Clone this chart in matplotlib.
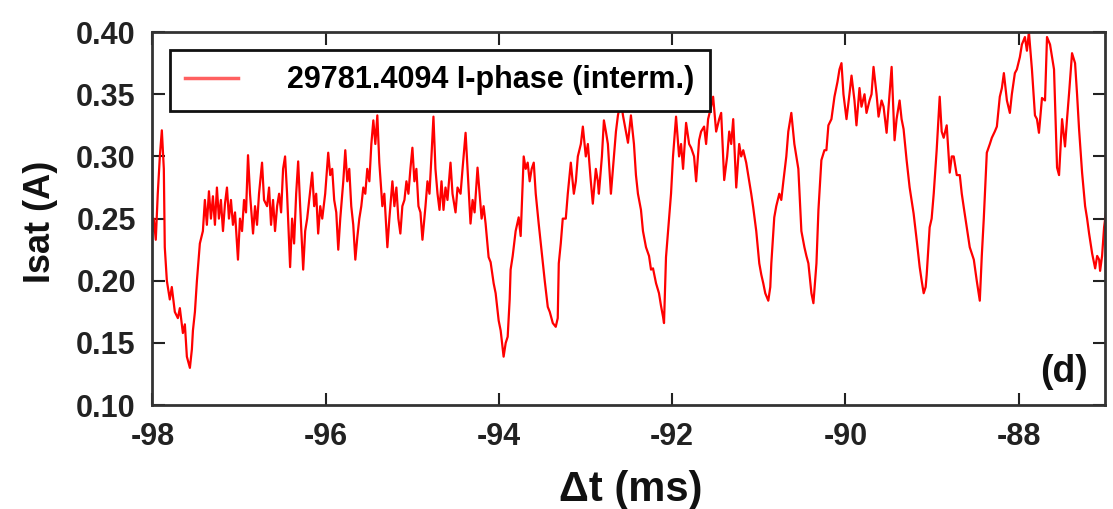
import numpy as np
import matplotlib
matplotlib.use("Agg")
import matplotlib.pyplot as plt
from matplotlib.ticker import FormatStrFormatter

plt.rcParams['font.family'] = ['Liberation Sans', 'DejaVu Sans']
plt.rcParams['font.weight'] = 'bold'
plt.rcParams['axes.unicode_minus'] = False

# time (ms) and Isat (A)
t_ms = [
    -98.000, -97.985, -97.962, -97.939, -97.915, -97.892, -97.869, -97.858, -97.834, -97.800,
    -97.777, -97.742, -97.707, -97.684, -97.649, -97.626, -97.603, -97.568, -97.545, -97.533,
    -97.510, -97.487, -97.453, -97.418, -97.395, -97.372, -97.348, -97.325, -97.302, -97.279,
    -97.256, -97.233, -97.210, -97.186, -97.163, -97.140, -97.117, -97.094, -97.071, -97.047,
    -97.013, -96.990, -96.966, -96.943, -96.920, -96.897, -96.874, -96.839, -96.816, -96.793,
    -96.770, -96.735, -96.712, -96.677, -96.654, -96.631, -96.608, -96.585, -96.561, -96.538,
    -96.515, -96.492, -96.469, -96.446, -96.411, -96.388, -96.365, -96.341, -96.318, -96.295,
    -96.260, -96.237, -96.214, -96.191, -96.156, -96.133, -96.110, -96.087, -96.063, -96.040,
    -96.006, -95.971, -95.948, -95.925, -95.902, -95.878, -95.855, -95.832, -95.797, -95.774,
    -95.751, -95.728, -95.705, -95.682, -95.658, -95.635, -95.612, -95.589, -95.566, -95.543,
    -95.520, -95.496, -95.473, -95.450, -95.427, -95.404, -95.381, -95.346, -95.323, -95.288,
    -95.265, -95.230, -95.207, -95.184, -95.161, -95.138, -95.115, -95.091, -95.068, -95.045,
    -95.022, -94.999, -94.976, -94.953, -94.929, -94.906, -94.883, -94.848, -94.825, -94.802,
    -94.779, -94.756, -94.733, -94.709, -94.686, -94.663, -94.640, -94.617, -94.594, -94.559,
    -94.536, -94.501, -94.478, -94.443, -94.420, -94.385, -94.362, -94.328, -94.304, -94.281,
    -94.247, -94.223, -94.200, -94.177, -94.154, -94.119, -94.096, -94.061, -94.038, -94.003,
    -93.980, -93.946, -93.922, -93.899, -93.876, -93.865, -93.841, -93.807, -93.772, -93.749,
    -93.714, -93.691, -93.668, -93.645, -93.622, -93.598, -93.575, -93.541, -93.517, -93.494,
    -93.471, -93.436, -93.413, -93.378, -93.344, -93.321, -93.309, -93.286, -93.263, -93.228,
    -93.205, -93.170, -93.135, -93.112, -93.089, -93.054, -93.031, -92.997, -92.973, -92.939,
    -92.916, -92.881, -92.858, -92.846, -92.811, -92.788, -92.765, -92.742, -92.707, -92.672,
    -92.649, -92.626, -92.591, -92.568, -92.534, -92.510, -92.476, -92.441, -92.418, -92.395,
    -92.360, -92.337, -92.302, -92.267, -92.244, -92.221, -92.186, -92.152, -92.129, -92.105,
    -92.094, -92.071, -92.036, -92.013, -91.990, -91.955, -91.920, -91.897, -91.874, -91.839,
    -91.804, -91.781, -91.747, -91.723, -91.689, -91.666, -91.631, -91.608, -91.585, -91.550,
    -91.527, -91.492, -91.457, -91.434, -91.399, -91.365, -91.341, -91.318, -91.295, -91.260,
    -91.226, -91.203, -91.179, -91.145, -91.110, -91.087, -91.064, -91.029, -90.994, -90.971,
    -90.948, -90.925, -90.890, -90.867, -90.855, -90.821, -90.798, -90.763, -90.740, -90.716,
    -90.682, -90.659, -90.624, -90.589, -90.566, -90.543, -90.508, -90.473, -90.450, -90.427,
    -90.392, -90.369, -90.334, -90.311, -90.277, -90.242, -90.219, -90.196, -90.161, -90.126,
    -90.091, -90.068, -90.045, -90.022, -89.987, -89.953, -89.929, -89.895, -89.872, -89.837,
    -89.814, -89.779, -89.756, -89.721, -89.698, -89.675, -89.640, -89.617, -89.582, -89.559,
    -89.524, -89.501, -89.466, -89.432, -89.409, -89.374, -89.351, -89.328, -89.293, -89.258,
    -89.212, -89.177, -89.142, -89.119, -89.096, -89.073, -89.061, -89.027, -89.004, -88.980,
    -88.946, -88.911, -88.888, -88.865, -88.830, -88.795, -88.772, -88.749, -88.714, -88.679,
    -88.656, -88.633, -88.598, -88.564, -88.517, -88.483, -88.448, -88.425, -88.402, -88.367,
    -88.332, -88.309, -88.275, -88.251, -88.217, -88.193, -88.170, -88.135, -88.101, -88.078,
    -88.043, -88.020, -87.985, -87.962, -87.927, -87.904, -87.881, -87.846, -87.811, -87.788,
    -87.765, -87.730, -87.695, -87.672, -87.637, -87.614, -87.591, -87.556, -87.533, -87.498,
    -87.464, -87.441, -87.417, -87.383, -87.348, -87.325, -87.302, -87.267, -87.232, -87.209,
    -87.186, -87.151, -87.116, -87.093, -87.070, -87.059, -87.036, -87.013, -86.978,
]
isat = [
    0.240, 0.250, 0.233, 0.270, 0.300, 0.321, 0.290, 0.227, 0.200, 0.185,
    0.195, 0.175, 0.170, 0.178, 0.158, 0.165, 0.139, 0.130, 0.145, 0.160,
    0.175, 0.200, 0.230, 0.240, 0.265, 0.245, 0.272, 0.250, 0.268, 0.245,
    0.275, 0.250, 0.265, 0.240, 0.262, 0.275, 0.250, 0.265, 0.245, 0.255,
    0.217, 0.250, 0.240, 0.265, 0.255, 0.301, 0.270, 0.238, 0.260, 0.245,
    0.270, 0.295, 0.265, 0.260, 0.275, 0.245, 0.265, 0.240, 0.260, 0.270,
    0.255, 0.290, 0.300, 0.270, 0.211, 0.250, 0.230, 0.270, 0.296, 0.260,
    0.209, 0.240, 0.250, 0.265, 0.287, 0.260, 0.270, 0.238, 0.260, 0.250,
    0.270, 0.303, 0.285, 0.290, 0.265, 0.255, 0.225, 0.250, 0.280, 0.305,
    0.280, 0.290, 0.260, 0.245, 0.217, 0.235, 0.250, 0.260, 0.275, 0.270,
    0.290, 0.280, 0.310, 0.329, 0.310, 0.333, 0.295, 0.260, 0.270, 0.227,
    0.250, 0.280, 0.260, 0.275, 0.250, 0.238, 0.260, 0.265, 0.280, 0.270,
    0.290, 0.307, 0.280, 0.290, 0.260, 0.255, 0.233, 0.260, 0.280, 0.270,
    0.300, 0.332, 0.290, 0.270, 0.257, 0.280, 0.257, 0.275, 0.265, 0.295,
    0.270, 0.255, 0.275, 0.270, 0.290, 0.319, 0.290, 0.246, 0.265, 0.255,
    0.291, 0.270, 0.250, 0.260, 0.246, 0.219, 0.215, 0.198, 0.190, 0.168,
    0.160, 0.139, 0.150, 0.155, 0.185, 0.209, 0.220, 0.240, 0.251, 0.236,
    0.300, 0.290, 0.295, 0.280, 0.290, 0.295, 0.270, 0.246, 0.230, 0.214,
    0.200, 0.179, 0.175, 0.166, 0.163, 0.170, 0.214, 0.230, 0.250, 0.250,
    0.270, 0.295, 0.270, 0.280, 0.300, 0.310, 0.324, 0.300, 0.310, 0.280,
    0.262, 0.290, 0.280, 0.270, 0.300, 0.329, 0.320, 0.310, 0.270, 0.300,
    0.320, 0.333, 0.345, 0.333, 0.320, 0.311, 0.333, 0.310, 0.285, 0.270,
    0.257, 0.240, 0.227, 0.220, 0.209, 0.210, 0.198, 0.190, 0.180, 0.171,
    0.166, 0.219, 0.250, 0.270, 0.300, 0.332, 0.300, 0.310, 0.290, 0.327,
    0.310, 0.307, 0.300, 0.280, 0.313, 0.320, 0.324, 0.310, 0.330, 0.340,
    0.348, 0.320, 0.330, 0.335, 0.281, 0.300, 0.320, 0.310, 0.330, 0.275,
    0.310, 0.300, 0.305, 0.295, 0.280, 0.270, 0.259, 0.240, 0.214, 0.205,
    0.198, 0.190, 0.184, 0.195, 0.214, 0.251, 0.260, 0.270, 0.265, 0.280,
    0.300, 0.320, 0.335, 0.310, 0.300, 0.290, 0.240, 0.227, 0.220, 0.214,
    0.190, 0.182, 0.214, 0.257, 0.297, 0.305, 0.305, 0.325, 0.330, 0.348,
    0.360, 0.370, 0.375, 0.350, 0.330, 0.350, 0.365, 0.345, 0.325, 0.355,
    0.340, 0.350, 0.335, 0.345, 0.350, 0.372, 0.350, 0.332, 0.345, 0.340,
    0.319, 0.340, 0.372, 0.313, 0.330, 0.345, 0.330, 0.322, 0.297, 0.275,
    0.254, 0.233, 0.211, 0.200, 0.190, 0.195, 0.205, 0.243, 0.250, 0.270,
    0.305, 0.348, 0.320, 0.315, 0.325, 0.287, 0.300, 0.300, 0.285, 0.285,
    0.270, 0.259, 0.243, 0.227, 0.217, 0.200, 0.184, 0.220, 0.250, 0.303,
    0.310, 0.315, 0.320, 0.324, 0.348, 0.355, 0.367, 0.345, 0.335, 0.350,
    0.367, 0.370, 0.380, 0.390, 0.396, 0.385, 0.400, 0.370, 0.333, 0.330,
    0.319, 0.347, 0.345, 0.396, 0.390, 0.380, 0.370, 0.291, 0.285, 0.330,
    0.308, 0.330, 0.351, 0.383, 0.375, 0.350, 0.322, 0.287, 0.260, 0.250,
    0.238, 0.222, 0.210, 0.220, 0.217, 0.208, 0.220, 0.243, 0.262,
]
label = "29781.4094 I-phase (interm.)"
x_ticks = [-98, -96, -94, -92, -90, -88]
y_ticks = [0.10, 0.15, 0.20, 0.25, 0.30, 0.35, 0.40]

fig = plt.figure(figsize=(11.13, 5.09), dpi=100)
ax = fig.add_axes([0.137, 0.204, 0.856, 0.733])

ax.plot(t_ms, isat, color='#ff0000', lw=1.6, label=label)

ax.set_xlim(-98, -87)
ax.set_ylim(0.10, 0.40)
ax.set_xticks(x_ticks)
ax.set_yticks(y_ticks)
ax.yaxis.set_major_formatter(FormatStrFormatter('%.2f'))
ax.tick_params(direction='in', length=9, width=1.5, top=True, right=True,
               labelsize=22, colors='#222222')
ax.tick_params(axis='x', pad=12)
ax.tick_params(axis='y', pad=12)
for sp in ax.spines.values():
    sp.set_linewidth(2)
    sp.set_color('#333333')

leg = ax.legend(loc='upper left', bbox_to_anchor=(0.018, 0.952), borderaxespad=0,
                fontsize=22, frameon=True, fancybox=False, framealpha=1,
                edgecolor='#111111', borderpad=0.5, handlelength=1.75, handletextpad=1.6)
leg.get_frame().set_linewidth(2)
leg.get_lines()[0].set_color('#ff6060')
leg.get_lines()[0].set_linewidth(2.5)
leg.set_zorder(5)

ax.text(0.982, 0.04, "(d)", transform=ax.transAxes, ha='right', va='bottom',
        fontsize=27, fontweight='bold', color='#111111')

fig.text(0.036, 0.564, "Isat (A)", rotation=90, ha='center', va='center',
         fontsize=26, fontweight='bold', color='#111111')
fig.text(0.567, 0.037, "\u0394t (ms)", ha='center', va='center',
         fontsize=30, fontweight='bold', color='#111111')

fig.savefig("out.png", dpi=100, facecolor='white')
